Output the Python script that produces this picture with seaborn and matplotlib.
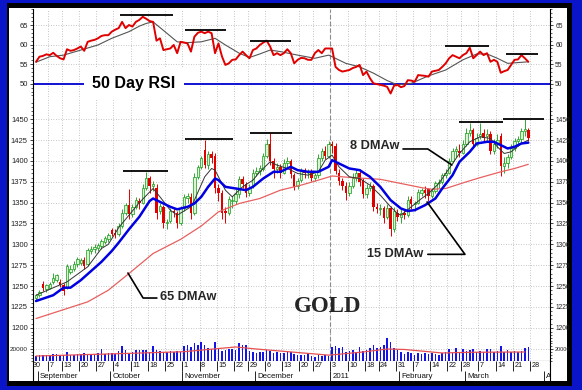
import numpy as np
import pandas as pd
import matplotlib
matplotlib.use("Agg")
import matplotlib.pyplot as plt
import seaborn as sns
from matplotlib.patches import Rectangle
from matplotlib.ticker import MultipleLocator, FixedLocator
from matplotlib import font_manager

sns.set_style("white")
plt.rcParams['font.family'] = ['Liberation Sans', 'DejaVu Sans']

# ---------------- calendar (trading sessions shown on the axis) ----------------
holidays = ['2010-09-06', '2010-11-25', '2010-12-24', '2011-01-17', '2011-02-21']
days = [d for d in pd.bdate_range('2010-08-30', '2011-04-01')
        if d.strftime('%Y-%m-%d') not in holidays]
first_session = 1          # data start on Aug 31 (session 1 of the calendar)

# ---------------- price data (Aug 31 2010 .. Mar 25 2011) ----------------
open_ = [1236,1239,1253,1246,1248,1255,1257,1255,1251,1248,1267,1270,1276,1278,1281,1276,1292,1294,1296,1298,
         1303,1306,1317,1314,1312,1322,1338,1347,1336,1345,1352,1350,1368,1380,1370,1368,1340,1345,1325,1328,
         1340,1338,1325,1343,1355,1357,1337,1381,1393,1413,1395,1408,1406,1368,1362,1340,1337,1352,1352,1360,
         1378,1372,1362,1370,1386,1388,1390,1406,1420,1400,1390,1393,1386,1398,1400,1383,1370,1377,1388,1385,
         1386,1380,1383,1404,1412,1406,1420,1418,1386,1376,1370,1362,1370,1380,1386,1377,1360,1368,1370,1345,
         1342,1344,1333,1344,1318,1338,1333,1338,1335,1354,1348,1350,1362,1365,1366,1358,1364,1373,1375,1383,
         1386,1400,1412,1412,1410,1420,1434,1437,1420,1430,1434,1430,1432,1412,1420,1430,1394,1397,1405,1416,
         1424,1426,1436,1437]
high = [1241,1245,1256,1253,1255,1266,1265,1258,1254,1276,1275,1280,1285,1284,1285,1296,1298,1300,1302,1306,
        1310,1314,1320,1318,1325,1342,1350,1366,1348,1357,1356,1372,1387,1382,1376,1372,1350,1347,1330,1343,
        1344,1340,1346,1360,1362,1362,1385,1395,1406,1425,1412,1412,1410,1372,1365,1345,1358,1358,1366,1382,
        1382,1375,1372,1390,1393,1395,1410,1426,1434,1404,1398,1396,1402,1405,1402,1386,1380,1392,1392,1390,
        1390,1386,1408,1416,1418,1424,1424,1422,1390,1380,1375,1375,1385,1390,1390,1380,1372,1375,1372,1350,
        1348,1346,1348,1346,1345,1342,1342,1342,1358,1358,1352,1366,1368,1370,1368,1368,1376,1378,1386,1390,
        1404,1415,1418,1420,1425,1440,1445,1440,1434,1445,1438,1438,1436,1426,1432,1434,1405,1408,1420,1428,
        1430,1440,1450,1440]
low = [1233,1237,1244,1243,1246,1253,1255,1249,1239,1246,1264,1268,1273,1275,1270,1274,1288,1290,1292,1294,
       1300,1303,1310,1308,1310,1320,1335,1330,1333,1342,1342,1348,1365,1362,1364,1330,1336,1320,1318,1325,
       1333,1320,1323,1340,1350,1330,1335,1378,1390,1392,1390,1398,1362,1352,1330,1326,1335,1343,1348,1355,
       1368,1357,1358,1368,1382,1383,1388,1404,1395,1380,1385,1380,1384,1393,1380,1365,1366,1375,1380,1380,
       1376,1376,1380,1400,1402,1404,1410,1384,1371,1365,1353,1358,1368,1376,1370,1355,1356,1364,1340,1338,
       1335,1325,1330,1310,1315,1328,1326,1330,1333,1342,1340,1348,1358,1355,1352,1355,1362,1368,1372,1380,
       1384,1398,1405,1405,1408,1418,1430,1415,1418,1426,1424,1424,1408,1408,1415,1382,1385,1392,1402,1412,
       1418,1422,1430,1424]
close = [1239,1243,1248,1251,1253,1260,1263,1251,1244,1274,1271,1277,1282,1281,1274,1293,1295,1297,1299,1304,
         1308,1311,1312,1311,1322,1338,1347,1336,1345,1353,1350,1368,1380,1370,1372,1338,1346,1325,1327,1340,
         1338,1325,1343,1357,1358,1337,1381,1393,1403,1395,1408,1403,1368,1362,1337,1337,1354,1352,1360,1378,
         1372,1362,1368,1386,1388,1391,1406,1420,1400,1390,1393,1385,1398,1400,1384,1369,1376,1388,1385,1386,
         1380,1383,1404,1412,1406,1420,1418,1388,1376,1370,1362,1370,1380,1386,1375,1360,1368,1370,1345,1342,
         1344,1332,1344,1318,1340,1333,1338,1335,1353,1348,1350,1363,1365,1361,1358,1364,1373,1375,1383,1386,
         1400,1412,1414,1410,1420,1434,1437,1420,1428,1432,1428,1432,1412,1420,1425,1394,1397,1405,1416,1424,
         1426,1436,1438,1428]

# moving averages: (session counted from Aug 31, value)
ma8_day = [0,9,15,19,21,24,30,34,36,39,41,45,46,49,51,52,55,57,60,63,65,68,70,73,76,79,82,84,86,88,91,94,97,
           100,103,105,106,109,112,114,117,120,123,126,129,132,134,136,138,141,143]
ma8_val = [1239,1255,1273,1295,1300,1320,1350,1367,1357,1341,1335,1345,1353,1381,1391,1389,1365,1357,1369,1377,
           1387,1399,1395,1391,1385,1383,1387,1401,1407,1393,1381,1379,1371,1359,1345,1337,1335,1345,1355,1361,
           1373,1391,1409,1423,1429,1427,1417,1409,1411,1421,1425]
ma15_day = [0,5,8,10,13,16,19,22,24,27,30,33,34,36,39,41,44,46,48,50,52,53,55,58,61,63,66,69,71,74,76,79,82,
            85,86,88,91,94,97,100,103,106,108,110,113,116,118,121,123,126,128,131,133,135,137,139,141,143]
ma15_val = [1232,1239,1248,1248,1257,1268,1279,1292,1302,1318,1333,1352,1355,1351,1345,1342,1345,1349,1357,1369,
            1379,1377,1369,1367,1365,1369,1379,1387,1387,1393,1389,1387,1387,1393,1401,1397,1391,1389,1381,1369,
            1353,1343,1340,1341,1347,1355,1367,1383,1399,1411,1421,1423,1423,1419,1415,1417,1421,1422]
ma65_day = [0,9,15,21,27,34,42,48,53,59,65,71,77,82,86,92,100,106,112,115,119,125,129,135,139,143]
ma65_val = [1211,1223,1231,1245,1265,1289,1306,1322,1339,1349,1355,1365,1371,1377,1382,1380,1378,1373,1368,1366,
            1367,1375,1380,1387,1391,1396]

# RSI (50 day) and its signal line
rsi = [55.6,56.9,57.1,57.5,57.3,57.9,57.1,56.5,56.2,58.8,58.4,58.6,59.0,59.5,58.4,60.7,61.0,61.2,61.6,62.2,
       62.4,62.4,63.3,63.8,64.2,65.8,64.2,65.0,64.6,65.8,66.3,67.1,66.6,66.0,65.8,61.0,61.6,58.6,58.8,59.0,
       59.9,57.8,60.7,60.5,60.3,58.2,62.0,63.0,63.3,62.9,63.3,62.9,57.8,60.3,57.0,54.8,55.2,56.1,56.2,57.3,
       58.2,57.3,56.5,58.6,59.0,59.9,60.5,61.0,59.5,57.3,57.8,57.3,57.8,58.8,57.8,55.2,56.1,56.6,56.5,56.1,
       56.1,57.8,58.6,57.8,59.0,59.0,59.0,54.3,53.5,53.1,53.3,53.5,54.0,54.3,54.8,52.2,53.1,51.4,50.1,49.9,
       49.7,49.5,49.2,47.5,49.5,49.7,49.1,49.4,50.9,50.8,50.5,52.2,52.1,52.0,51.8,53.1,53.3,53.5,54.3,55.2,
       56.5,57.3,56.9,56.5,57.3,57.8,59.2,56.5,57.3,58.2,57.3,57.8,55.6,56.1,55.6,52.8,53.2,53.5,54.8,56.1,
       56.2,57.3,56.5,55.6]
rsi_sig_day = [0,4,8,13,18,22,27,30,32,34,38,41,44,48,52,55,59,62,65,68,71,76,81,85,86,90,94,98,102,105,109,
               114,119,124,128,131,134,137,140,143]
rsi_sig_val = [55.5,56.9,57.3,58.6,59.9,61.6,63.3,64.7,65.4,65.8,62.9,60.7,60.5,60.7,61.6,59.9,57.8,56.7,57.6,
               58.6,58.2,57.3,56.5,57.3,56.9,55.2,54.3,52.7,50.8,49.7,50.1,52.0,53.5,56.1,57.6,57.6,56.5,55.2,
               55.4,55.6]

# volume
volume = [9000,10000,9500,11000,10500,11500,12000,11000,10000,15500,11000,10000,11500,12000,14000,12500,11000,
          12000,13000,20000,12500,14000,13500,12000,17000,26000,19500,14000,15000,18000,18500,19000,18000,16000,
          25500,19000,17000,15500,16000,17000,15000,16500,15500,26000,26500,24500,31000,27000,32500,28000,22000,
          21000,32500,20000,17500,19000,20500,21000,18000,30800,28000,27500,17000,15500,14500,16000,15500,18500,
          17000,14000,15000,13500,14500,17000,15000,12000,11000,9500,10500,12000,8500,7000,9500,8000,10000,8500,
          24000,25000,23000,24500,15000,17000,18000,16000,24000,17500,19000,22000,26800,22000,24000,26800,40000,
          32500,22000,19000,16000,12000,15000,13000,10500,14000,12500,13000,12000,14000,11500,10000,13000,15000,
          21000,13000,21500,14000,20000,16500,18000,21000,15000,17500,16000,20000,21000,15500,17000,25500,15000,
          18500,16000,17500,16000,17000,22000,23500]
vol_ma_day = [0,21,43,58,64,76,85,87,95,102,107,118,126,142]
vol_ma_val = [8500,12000,15900,24000,20500,14500,10000,11000,15400,20500,19700,13700,14900,15400]

# resistance marks: (first session, last session, level)
rsi_marks = [(24.4, 39.8, 67.6), (43.3, 55.2, 63.7), (62.1, 74.0, 61.0), (118.8, 131.6, 59.7), (136.5, 145.8, 57.6)]
price_marks = [(25.3, 38.3, 1388), (43.3, 57.2, 1426), (62.1, 74.3, 1434), (122.8, 135.6, 1447), (135.6, 147.5, 1450)]

# ---------------- figure ----------------
W, H = 582, 390
fig = plt.figure(figsize=(W / 100, H / 100), dpi=100)
fig.patch.set_facecolor('#0a14c8')
fig.add_artist(Rectangle((7 / W, 1 - 386 / H), 565 / W, 383 / H, transform=fig.transFigure,
                         facecolor='black', edgecolor='none', zorder=-10))
fig.add_artist(Rectangle((9 / W, 1 - 381 / H), 558 / W, 373 / H, transform=fig.transFigure,
                         facecolor='white', edgecolor='none', zorder=-9))

L_PX, R_PX = 33, 550


def add_ax(top, bottom):
    a = fig.add_axes([L_PX / W, 1 - bottom / H, (R_PX - L_PX) / W, (bottom - top) / H])
    a.set_facecolor('none')
    return a


ax_rsi = add_ax(9, 99)
ax_p = add_ax(99, 333)
ax_v = add_ax(333, 361)
ax_d = add_ax(361, 381)

xs = np.arange(first_session, first_session + len(close))
XMIN, XMAX = 0.12, 150.3

# week / month boundaries from the calendar
week_starts, month_starts = [], []
for i, d in enumerate(days):
    if i == 0 or d.isocalendar()[1] != days[i - 1].isocalendar()[1]:
        week_starts.append((i - 0.5, str(d.day)))
    if i > 0 and d.month != days[i - 1].month:
        lab = '2011' if (d.month == 1) else d.strftime('%B')
        month_starts.append((i - 0.5, lab))
year_sep = [p for p, lab in month_starts if lab == '2011'][0]

grid_kw = dict(color='#b4b4b4', lw=0.6, ls=(0, (1, 2)))

for a in (ax_rsi, ax_p, ax_v, ax_d):
    a.set_xlim(XMIN, XMAX)
    a.set_xticks([])
    for s in ('top', 'bottom'):
        a.spines[s].set_visible(False)
    for s in ('left', 'right'):
        a.spines[s].set_color('black')
        a.spines[s].set_linewidth(0.8)

# narrow face for the right-hand labels if it is installed
names = {f.name for f in font_manager.fontManager.ttflist}
right_family = ['Liberation Sans Narrow'] if 'Liberation Sans Narrow' in names else ['Liberation Sans']

for a in (ax_rsi, ax_p, ax_v):
    for p, _ in week_starts:
        a.axvline(p, zorder=0, **grid_kw)
    a.axvline(year_sep, color='#8c8c8c', lw=0.8, ls=(0, (4, 2)), zorder=0.5)
    a.tick_params(axis='y', which='both', left=True, right=True, labelleft=True, labelright=True,
                  direction='out', colors='#222222', labelsize=5.5, pad=1.2)
    a.tick_params(axis='y', which='major', length=2.5, width=0.6)
    a.tick_params(axis='y', which='minor', length=1.5, width=0.5)

# ---------------- RSI panel ----------------
ax_rsi.set_ylim(46.09, 69.09)
ax_rsi.yaxis.set_major_locator(FixedLocator([50, 55, 60, 65]))
ax_rsi.yaxis.set_minor_locator(MultipleLocator(1))
for v in (55, 60, 65):
    ax_rsi.axhline(v, zorder=0, **grid_kw)
ax_rsi.axhline(50, color='#0000d0', lw=1.3, zorder=2)
sns.lineplot(x=np.array(rsi_sig_day) + first_session, y=rsi_sig_val, ax=ax_rsi, color='#555555', lw=0.8,
             estimator=None, sort=False, zorder=3)
sns.lineplot(x=xs, y=rsi, ax=ax_rsi, color='#e00000', lw=1.4, estimator=None, sort=False, zorder=4)
for x0, x1, lvl in rsi_marks:
    ax_rsi.hlines(lvl, x0 + first_session, x1 + first_session, color='black', lw=1.3, zorder=5)
ax_rsi.text(29.45, 50.1, '50 Day RSI', ha='center', va='center', fontsize=11.5, fontweight='bold',
            color='black', zorder=6,
            bbox=dict(boxstyle='square,pad=0.55', facecolor='white', edgecolor='none'))
ax_rsi.set_ylabel('')

# ---------------- price panel ----------------
ax_p.set_ylim(1193.64, 1474.35)
ax_p.yaxis.set_major_locator(MultipleLocator(25))
ax_p.yaxis.set_minor_locator(MultipleLocator(5))
for v in range(1200, 1451, 25):
    ax_p.axhline(v, zorder=0, **grid_kw)

o = np.array(open_); c = np.array(close); hi = np.array(high); lo = np.array(low)
up = c >= o
green_edge, green_fill, red = '#139a13', '#d6f5d0', '#e00000'
ax_p.vlines(xs[up], lo[up], hi[up], color=green_edge, lw=0.6, zorder=2)
ax_p.vlines(xs[~up], lo[~up], hi[~up], color=red, lw=0.7, zorder=2)
ax_p.bar(xs[up], np.maximum(c[up] - o[up], 0.8), bottom=o[up], width=0.7, facecolor=green_fill,
         edgecolor=green_edge, lw=0.5, zorder=3)
ax_p.bar(xs[~up], o[~up] - c[~up], bottom=c[~up], width=0.7, color=red, lw=0, zorder=3)

sns.lineplot(x=np.array(ma65_day) + first_session, y=ma65_val, ax=ax_p, color='#e86060', lw=0.9,
             estimator=None, sort=False, zorder=4)
sns.lineplot(x=np.array(ma8_day) + first_session, y=ma8_val, ax=ax_p, color='#333333', lw=0.7,
             estimator=None, sort=False, zorder=5)
sns.lineplot(x=np.array(ma15_day) + first_session, y=ma15_val, ax=ax_p, color='#0000e0', lw=1.8,
             estimator=None, sort=False, zorder=6)
for x0, x1, lvl in price_marks:
    ax_p.hlines(lvl, x0 + first_session, x1 + first_session, color='black', lw=1.3, zorder=7)

lead = dict(color='black', lw=1.2, zorder=7)
ax_p.plot([107.6, 114.8, 121.8], [1414.4, 1414.4, 1395.2], **lead)
ax_p.text(99.45, 1418, '8 DMAw', ha='center', va='center', fontsize=9.2, fontweight='bold', zorder=8)
ax_p.plot([114.8, 125.6, 114.6], [1288, 1288, 1350.8], **lead)
ax_p.text(105.4, 1288.4, '15 DMAw', ha='center', va='center', fontsize=9.2, fontweight='bold', zorder=8)
ax_p.plot([36.1, 32.1, 27.7], [1235.6, 1235.6, 1265.6], **lead)
ax_p.text(45.1, 1236.8, '65 DMAw', ha='center', va='center', fontsize=9.2, fontweight='bold', zorder=8)
ax_p.text(85.8, 1226, 'GOLD', ha='center', va='center', fontsize=16.5, fontweight='bold',
          family=['Liberation Serif', 'DejaVu Serif'], zorder=8)
ax_p.set_ylabel('')

# ---------------- volume panel ----------------
ax_v.set_ylim(0, 47863)
ax_v.yaxis.set_major_locator(FixedLocator([20000]))
ax_v.yaxis.set_minor_locator(MultipleLocator(5000))
ax_v.axhline(20000, zorder=0, **grid_kw)
ax_v.bar(xs, volume, width=0.45, color='#1414e6', lw=0, zorder=2)
sns.lineplot(x=np.array(vol_ma_day) + first_session, y=vol_ma_val, ax=ax_v, color='#e85050', lw=0.9,
             estimator=None, sort=False, zorder=3)
ax_v.axhline(0, color='black', lw=0.8, zorder=4)
ax_v.set_ylabel('')

# smaller, narrower labels on the right side
for a in (ax_rsi, ax_p, ax_v):
    for t in a.yaxis.get_major_ticks():
        t.label2.set_fontsize(4.8)
        t.label2.set_family(right_family)
for t in ax_v.yaxis.get_major_ticks():
    t.label1.set_fontsize(4.6)
    t.label2.set_fontsize(4.0)

# ---------------- date strip ----------------
ax_d.set_ylim(0, 1)
ax_d.set_yticks([])
for p, lab in week_starts:
    ax_d.vlines(p, 0.52, 1, color='black', lw=0.6)
    ax_d.text(p + 0.45, 0.76, lab, ha='left', va='center', fontsize=5.2, color='#111111', clip_on=True)
for p, lab in month_starts:
    ax_d.vlines(p, 0, 0.52, color='black', lw=0.6)
    ax_d.text(p + 0.7, 0.25, lab, ha='left', va='center', fontsize=5.7, color='#111111', clip_on=True)

fig.savefig('out.png', dpi=100, facecolor=fig.get_facecolor())
